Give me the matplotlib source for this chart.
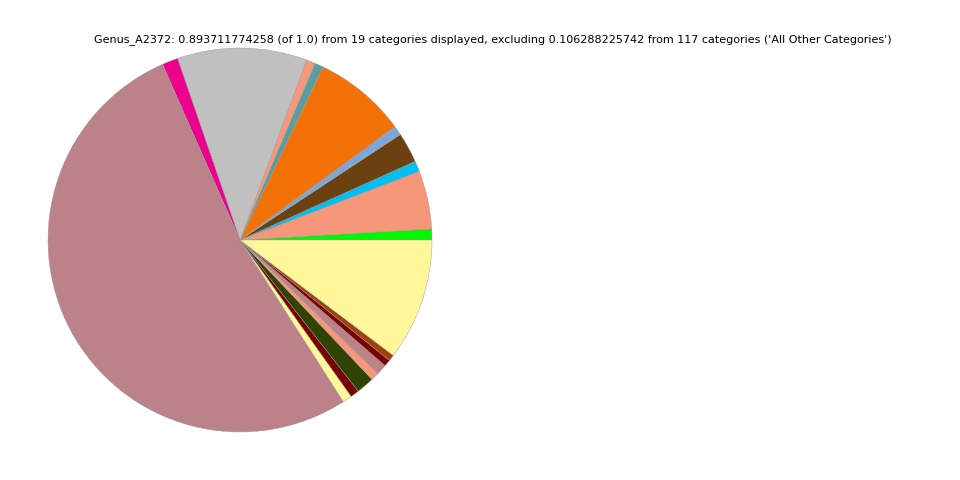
import matplotlib
matplotlib.use("Agg")
import matplotlib.pyplot as plt

# Slice values (fractions of 1.0), counter-clockwise from 3 o'clock
values = [0.0082, 0.0439, 0.0079, 0.0228, 0.0070, 0.0700, 0.0065, 0.0067,
          0.0976, 0.0119, 0.4687, 0.0070, 0.0065, 0.0134, 0.0062, 0.0079,
          0.0050, 0.0047, 0.0918]
colors = ["#00f700", "#f7977a", "#00bff3", "#6b420f", "#7ea7d8", "#f37207",
          "#5b9c9e", "#f7977a", "#c0c0c0", "#ec008c", "#bc8289", "#fff799",
          "#790000", "#2e4304", "#f7977a", "#bc8289", "#790000", "#a0410d",
          "#fff799"]
title = ("Genus_A2372: 0.893711774258 (of 1.0) from 19 categories displayed, "
         "excluding 0.106288225742 from 117 categories ('All Other Categories')")

fig = plt.figure(figsize=(9.6, 4.8), dpi=100)
ax = fig.add_axes([48 / 960, 48 / 480, 384 / 960, 384 / 480])
ax.pie(values, colors=colors, startangle=0, counterclock=True,
       wedgeprops=dict(linewidth=0.3, edgecolor="#999999"))
ax.set_xlim(-1, 1)
ax.set_ylim(-1, 1)
ax.set_aspect("equal")
ax.axis("off")
fig.text(492.5 / 960, 1 - 39.5 / 480, title, ha="center", va="center", fontsize=8)
fig.savefig("out.png", dpi=100)
